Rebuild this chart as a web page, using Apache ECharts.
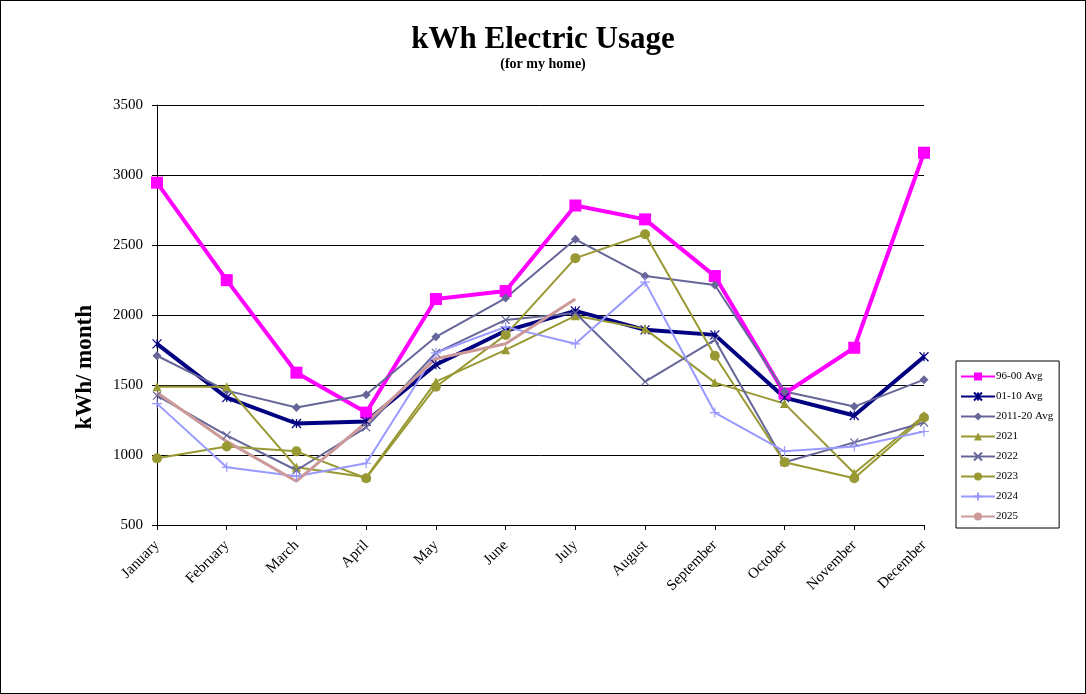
<!DOCTYPE html>
<html lang="en">
<head>
    <meta charset="UTF-8">
    <title>kWh Electric Usage</title>
    <script src="https://cdn.jsdelivr.net/npm/echarts@6/dist/echarts.min.js"></script>
</head>
<body style="margin: 0; background-color: white;">
<div id="chart" style="width: 1086px; height: 694px; box-sizing: border-box; border: 1px solid #000;"></div>

<script>
    // months along the x axis
    const months = ['January', 'February', 'March', 'April', 'May', 'June',
        'July', 'August', 'September', 'October', 'November', 'December'];

    // monthly kWh per series
    const avg9600 = [2945, 2249, 1588, 1303, 2114, 2171, 2782, 2683, 2278, 1439, 1766, 3159];
    const avg0110 = [1794, 1410, 1225, 1240, 1645, 1887, 2029, 1894, 1858, 1410, 1282, 1702];
    const avg1120 = [1709, 1460, 1339, 1431, 1844, 2121, 2541, 2278, 2214, 1453, 1346, 1538];
    const y2021 = [1488, 1488, 912, 841, 1524, 1751, 1994, 1901, 1517, 1367, 870, 1282];
    const y2022 = [1424, 1140, 891, 1197, 1730, 1965, 2014, 1524, 1823, 948, 1090, 1232];
    const y2023 = [976, 1061, 1026, 834, 1488, 1858, 2406, 2577, 1709, 948, 834, 1268];
    const y2024 = [1367, 912, 848, 941, 1730, 1915, 1794, 2235, 1303, 1026, 1061, 1168];
    const y2025 = [1446, 1097, 813, 1232, 1688, 1794, 2114];

    const yTicks = [500, 1000, 1500, 2000, 2500, 3000, 3500];

    const FONT = '"Liberation Serif", "Times New Roman", serif';

    // stroked marker shapes (Excel style x and asterisk)
    const X_MARK = 'path://M0,0L10,10M10,0L0,10';
    const STAR_MARK = 'path://M0,0L10,10M10,0L0,10M5,0L5,10';
    const PLUS_MARK = 'path://M5,0L5,10M0,5L10,5';

    function line(name, data, color, width, symbol, size, stroked) {
        return {
            name: name,
            type: 'line',
            data: data,
            symbol: symbol,
            symbolSize: size,
            showSymbol: symbol !== 'none',
            lineStyle: { color: color, width: width },
            itemStyle: stroked
                ? { color: 'rgba(0,0,0,0)', borderColor: color, borderWidth: 1.2 }
                : { color: color },
            emphasis: { disabled: true },
            animation: false
        };
    }

    const chart = echarts.init(document.getElementById('chart'));

    chart.setOption({
        backgroundColor: '#fff',
        title: {
            text: 'kWh Electric Usage',
            subtext: '(for my home)',
            left: 'center',
            top: 18,
            itemGap: 2,
            textStyle: { fontFamily: FONT, fontSize: 31, fontWeight: 'bold', color: '#000' },
            subtextStyle: { fontFamily: FONT, fontSize: 14, fontWeight: 'bold', color: '#000' }
        },
        // rotated y axis title, placed where the original sits
        graphic: [{
            type: 'text',
            left: 73,
            top: 304,
            rotation: Math.PI / 2,
            style: {
                text: 'kWh/ month',
                font: 'bold 23px ' + FONT,
                fill: '#000'
            }
        }],
        legend: {
            orient: 'vertical',
            left: 955,
            top: 360,
            width: 102,
            padding: [10, 6, 6, 4],
            itemGap: 9,
            itemWidth: 34,
            itemHeight: 10,
            borderColor: '#000',
            borderWidth: 1,
            backgroundColor: '#fff',
            textStyle: { fontFamily: FONT, fontSize: 11, color: '#000', padding: [0, 0, 0, -4] },
            data: ['96-00 Avg', '01-10 Avg', '2011-20 Avg', '2021', '2022', '2023', '2024', '2025']
        },
        grid: { left: 156, right: 161, top: 104, bottom: 168 },
        xAxis: {
            type: 'category',
            data: months,
            boundaryGap: false,
            axisLine: { lineStyle: { color: '#000', width: 1 } },
            axisTick: { alignWithLabel: true, length: 5, lineStyle: { color: '#000' } },
            axisLabel: {
                interval: 0,
                rotate: 45,
                margin: 18,
                fontFamily: FONT,
                fontSize: 15,
                color: '#000'
            },
            splitLine: { show: false }
        },
        yAxis: {
            type: 'value',
            min: yTicks[0],
            max: yTicks[yTicks.length - 1],
            interval: 500,
            axisLine: { show: true, lineStyle: { color: '#000', width: 1 } },
            axisTick: { show: true, length: 5, lineStyle: { color: '#000' } },
            axisLabel: {
                fontFamily: FONT,
                fontSize: 15,
                color: '#000',
                margin: 14,
                formatter: function (v) { return String(v); }
            },
            splitLine: { show: true, lineStyle: { color: '#000', width: 1 } }
        },
        series: [
            line('96-00 Avg', avg9600, '#ff00ff', 4, 'rect', 12, false),
            line('01-10 Avg', avg0110, '#000080', 4, STAR_MARK, 9, true),
            line('2011-20 Avg', avg1120, '#666699', 2, 'diamond', 9, false),
            line('2021', y2021, '#999933', 2, 'triangle', 9, false),
            line('2022', y2022, '#666699', 2, X_MARK, 8, true),
            line('2023', y2023, '#999933', 2, 'circle', 10, false),
            line('2024', y2024, '#9999ff', 2, PLUS_MARK, 10, true),
            line('2025', y2025, '#cc9999', 3, 'none', 0, false)
        ]
    });
</script>
</body>
</html>
